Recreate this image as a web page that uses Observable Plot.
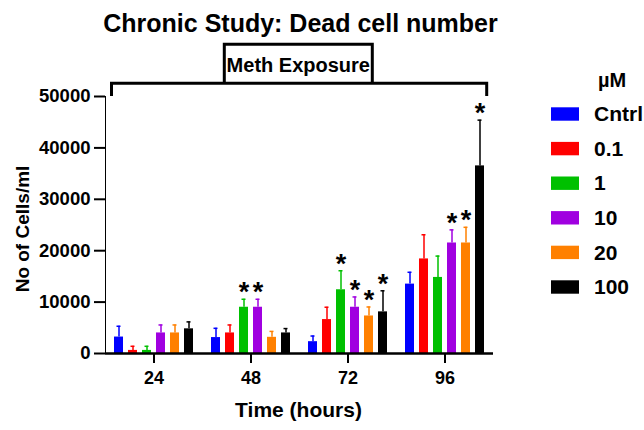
<!DOCTYPE html>
<html>
<head>
<meta charset="utf-8">
<script src="https://cdn.jsdelivr.net/npm/d3@7"></script>
<script src="https://cdn.jsdelivr.net/npm/@observablehq/plot@0.6"></script>
<style>
  body { margin: 0; background: #fff; }
  #wrap { position: relative; width: 644px; height: 430px; font-family: "Liberation Sans", Arial, sans-serif; }
  #wrap svg.overlay { position: absolute; left: 0; top: 0; pointer-events: none; }
  g[aria-label="y-axis tick label"] { font-size: 18.5px; }
  g[aria-label="fx-axis tick label"] { font-size: 18px; }
  g[aria-label="y-axis tick"], g[aria-label="fx-axis tick"] { stroke-width: 2px; }
</style>
</head>
<body>
<div id="wrap"></div>
<script>
// ---- data ----
const times = [24, 48, 72, 96];
const concs = ["Cntrl", "0.1", "1", "10", "20", "100"];
const colors = ["#0000ff", "#ff0000", "#00c000", "#a000e0", "#ff8000", "#000000"];
const yTicks = [0, 10000, 20000, 30000, 40000, 50000];

// mean dead cells per time point (24, 48, 72, 96 h)
const meanCntrl = [3200, 3100, 2300, 13500];
const mean01    = [600, 4000, 6600, 18400];
const mean1     = [600, 9000, 12400, 14800];
const mean10    = [4000, 9000, 9000, 21500];
const mean20    = [4000, 3150, 7300, 21500];
const mean100   = [4800, 4000, 8100, 36500];

// error (SEM) per time point
const errCntrl = [2100, 1800, 1100, 2300];
const err01    = [800, 1550, 2400, 4700];
const err1     = [800, 1550, 3700, 4150];
const err10    = [1550, 1550, 2000, 2550];
const err20    = [1550, 1150, 1750, 3050];
const err100   = [1350, 850, 4100, 8900];

// significance markers
const sigCntrl = [0, 0, 0, 0];
const sig01    = [0, 0, 0, 0];
const sig1     = [0, 1, 1, 0];
const sig10    = [0, 1, 1, 1];
const sig20    = [0, 0, 1, 1];
const sig100   = [0, 0, 1, 1];

const means = [meanCntrl, mean01, mean1, mean10, mean20, mean100];
const errs = [errCntrl, err01, err1, err10, err20, err100];
const sigs = [sigCntrl, sig01, sig1, sig10, sig20, sig100];

const table = concs.flatMap((c, i) => times.map((t, j) => ({
  time: t, conc: c, mean: means[i][j], top: means[i][j] + errs[i][j], sig: sigs[i][j]
})));

const font = '"Liberation Sans", Arial, sans-serif';

const chart = Plot.plot({
  width: 644,
  height: 430,
  marginLeft: 104,
  marginRight: 150,
  marginTop: 96,
  marginBottom: 77,
  style: { fontFamily: font, fontWeight: "bold", background: "white", color: "black" },
  fx: { domain: times, padding: 0, label: null, tickSize: 10, tickPadding: 8 },
  x: { domain: concs, paddingInner: 0.336, paddingOuter: 0.507, axis: null },
  y: { domain: [0, 50000], ticks: yTicks, tickFormat: d3.format("d"), tickSize: 11, tickPadding: 4, label: null, line: true },
  color: { domain: concs, range: colors },
  marks: [
    Plot.barY(table, { fx: "time", x: "conc", y: "mean", fill: "conc" }),
    Plot.ruleX(table, { fx: "time", x: "conc", y1: "mean", y2: "top", stroke: "conc", strokeWidth: 1.5 }),
    Plot.tickY(table, { fx: "time", x: "conc", y: "top", stroke: "conc", strokeWidth: 1.5, insetLeft: 2.5, insetRight: 2.5 }),
    Plot.text(table.filter(d => d.sig), { fx: "time", x: "conc", y: "top", text: () => "*", lineAnchor: "bottom", dy: 2, fontSize: 27, fontWeight: "bold", fill: "black" }),
    Plot.ruleY([0], { strokeWidth: 2.5 })
  ]
});

const wrap = document.getElementById("wrap");
wrap.appendChild(chart);

// ---- overlay: title, bracket, axis titles, legend ----
const ns = "http://www.w3.org/2000/svg";
const ov = document.createElementNS(ns, "svg");
ov.setAttribute("class", "overlay");
ov.setAttribute("width", 644);
ov.setAttribute("height", 430);
ov.setAttribute("font-family", font);
ov.setAttribute("font-weight", "bold");
wrap.appendChild(ov);

function el(tag, attrs, text) {
  const e = document.createElementNS(ns, tag);
  for (const k in attrs) e.setAttribute(k, attrs[k]);
  if (text != null) e.textContent = text;
  ov.appendChild(e);
  return e;
}

el("text", { x: 300.5, y: 32, "text-anchor": "middle", "font-size": 25 }, "Chronic Study: Dead cell number");
el("path", { d: "M111.5,96 V83.3 H486.7 V96", fill: "none", stroke: "black", "stroke-width": 3 });
el("path", { d: "M224.3,83.3 V44.3 H372.3 V83.3", fill: "none", stroke: "black", "stroke-width": 3 });
el("text", { x: 298.3, y: 72, "text-anchor": "middle", "font-size": 20 }, "Meth Exposure");

el("text", { x: 298.5, y: 417, "text-anchor": "middle", "font-size": 21 }, "Time (hours)");
el("text", { transform: "translate(29,229) rotate(-90)", "text-anchor": "middle", "font-size": 19 }, "No of Cells/ml");

el("text", { x: 598, y: 87, "font-size": 20 }, "µM");
concs.forEach((c, i) => {
  const cy = 114 + i * 34.6;
  el("rect", { x: 551, y: cy - 6.7, width: 28, height: 13.4, fill: colors[i] });
  el("text", { x: 594, y: cy + 7.2, "font-size": 21 }, c);
});
</script>
</body>
</html>
